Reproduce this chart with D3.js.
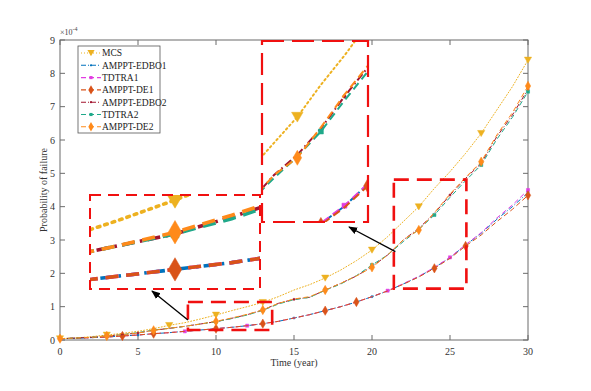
<!DOCTYPE html>
<html>
<head>
<meta charset="utf-8">
<script src="https://cdn.jsdelivr.net/npm/d3@7"></script>
<style>
  body { margin: 0; background: #fff; }
  text { font-family: "Liberation Serif", "Times New Roman", serif; }
</style>
</head>
<body>
<svg id="chart" width="591" height="391"></svg>
<script>
// data (values in units of 1e-4)
var years = [0,1,2,3,4,5,6,7,8,9,10,11,12,13,14,15,16,17,18,19,20,21,22,23,24,25,26,27,28,29,30];
var mcs    = [0.04,0.06,0.10,0.15,0.20,0.26,0.34,0.44,0.52,0.63,0.75,0.88,1.00,1.13,1.30,1.50,1.66,1.86,2.10,2.38,2.70,3.10,3.55,4.00,4.55,5.05,5.60,6.20,6.90,7.60,8.40];
var edbo1  = [0.04,0.05,0.07,0.09,0.12,0.15,0.19,0.22,0.26,0.30,0.34,0.38,0.43,0.49,0.56,0.66,0.76,0.88,1.00,1.14,1.30,1.47,1.68,1.90,2.17,2.47,2.85,3.20,3.62,4.00,4.42];
var tdtra1 = [0.04,0.05,0.07,0.09,0.12,0.15,0.19,0.22,0.26,0.30,0.34,0.38,0.43,0.49,0.56,0.66,0.76,0.88,1.00,1.14,1.30,1.48,1.69,1.91,2.18,2.48,2.86,3.22,3.66,4.05,4.50];
var de1    = [0.04,0.05,0.07,0.09,0.12,0.15,0.19,0.22,0.26,0.30,0.34,0.38,0.43,0.49,0.56,0.66,0.76,0.88,1.00,1.14,1.30,1.47,1.67,1.89,2.15,2.45,2.82,3.15,3.55,3.92,4.34];
var edbo2  = [0.04,0.06,0.08,0.12,0.16,0.21,0.29,0.35,0.41,0.48,0.55,0.65,0.76,0.90,1.10,1.22,1.28,1.50,1.70,1.92,2.20,2.55,3.00,3.35,3.80,4.35,4.85,5.30,6.10,6.75,7.52];
var tdtra2 = [0.04,0.06,0.08,0.12,0.16,0.22,0.30,0.35,0.41,0.48,0.55,0.64,0.75,0.89,1.08,1.21,1.28,1.49,1.68,1.93,2.25,2.55,2.95,3.32,3.75,4.28,4.78,5.25,6.02,6.68,7.45];
var de2    = [0.04,0.06,0.08,0.12,0.16,0.21,0.29,0.35,0.41,0.48,0.56,0.66,0.77,0.90,1.10,1.23,1.30,1.50,1.70,1.92,2.18,2.55,3.00,3.30,3.82,4.38,4.88,5.35,6.15,6.82,7.62];

// which points carry a marker
var mcsMarks    = [0,3,7,10,13,17,20,23,27,30];
var edbo1Marks  = [0,5,10,15,20,25,30];
var tdtra1Marks = [0,4,8,12,17,21,25,30];
var de1Marks    = [4,6,10,13,17,19,24,26,30];
var edbo2Marks  = [0,5,10,15,20,25,30];
var tdtra2Marks = [3,6,10,13,17,20,24,27,30];
var de2Marks    = [0,3,6,10,13,17,20,23,27,30];

var xTicks = [0,5,10,15,20,25,30];
var yTicks = [0,1,2,3,4,5,6,7,8,9];

var series = [
  {name: "MCS",         values: mcs,    marks: mcsMarks,    color: "#EDB120", dash: "1,2",     marker: "tri"},
  {name: "AMPPT-EDBO1", values: edbo1,  marks: edbo1Marks,  color: "#0072BD", dash: "5,2,1,2", marker: "dot"},
  {name: "TDTRA1",      values: tdtra1, marks: tdtra1Marks, color: "#E23CE2", dash: "5,3",     marker: "sq"},
  {name: "AMPPT-DE1",   values: de1,    marks: de1Marks,    color: "#D95319", dash: "5,3",     marker: "dia"},
  {name: "AMPPT-EDBO2", values: edbo2,  marks: edbo2Marks,  color: "#A2142F", dash: "5,2,1,2", marker: "dot"},
  {name: "TDTRA2",      values: tdtra2, marks: tdtra2Marks, color: "#1FA98A", dash: "5,3",     marker: "sq"},
  {name: "AMPPT-DE2",   values: de2,    marks: de2Marks,    color: "#FF8A1A", dash: "5,3",     marker: "dia"}
];

//Setup chart
var svg = d3.select("#chart"),
    margin = {top: 40, right: 63, bottom: 51, left: 60},
    width = +svg.attr("width") - margin.left - margin.right,
    height = +svg.attr("height") - margin.top - margin.bottom,
    g = svg.append("g").attr("transform", "translate(" + margin.left + "," + margin.top + ")");

var x = d3.scaleLinear().domain([0, 30]).range([0, width]);
var y = d3.scaleLinear().domain([0, 9]).range([height, 0]);

var axisColor = "#6b6b6b";

// draw a marker shape centred at 0,0
function markerPath(type, s) {
  if (type == "tri") return "M" + (-s) + "," + (-s * 0.8) + "L" + s + "," + (-s * 0.8) + "L0," + (s * 0.9) + "Z";
  if (type == "dia") return "M0," + (-s * 1.3) + "L" + (s * 0.75) + ",0L0," + (s * 1.3) + "L" + (-s * 0.75) + ",0Z";
  if (type == "sq")  return "M" + (-s * 0.6) + "," + (-s * 0.6) + "h" + (s * 1.2) + "v" + (s * 1.2) + "h" + (-s * 1.2) + "Z";
  return d3.symbol().type(d3.symbolCircle).size(s * s * 1.2)();
}
var markerSize = {tri: 3.6, dia: 3.6, sq: 2.6, dot: 1.8};

// draws all series into a group with given scales
function drawSeries(target, xs, ys, lw, scale, markScale) {
  var line = d3.line()
    .x(function(d, i){ return xs(years[i]); })
    .y(function(d){ return ys(d); });
  series.forEach(function(s) {
    var dash = s.dash.split(",").map(function(v){ return +v * scale; }).join(",");
    target.append("path")
      .datum(s.values)
      .attr("fill", "none")
      .attr("stroke", s.color)
      .attr("stroke-width", lw)
      .attr("stroke-dasharray", dash)
      .attr("stroke-linecap", s.marker == "tri" ? "round" : "butt")
      .attr("d", line);
    target.selectAll(null)
      .data(s.marks)
      .enter().append("path")
      .attr("transform", function(i){ return "translate(" + xs(years[i]) + "," + ys(s.values[i]) + ")"; })
      .attr("d", markerPath(s.marker, markerSize[s.marker] * markScale))
      .attr("fill", s.color)
      .attr("stroke", s.color)
      .attr("stroke-width", 0.5);
  });
}

// axes box
g.append("rect")
  .attr("width", width).attr("height", height)
  .attr("fill", "none").attr("stroke", axisColor).attr("stroke-width", 1);

var tickLen = 5;
xTicks.forEach(function(t) {
  g.append("line").attr("x1", x(t)).attr("x2", x(t)).attr("y1", height).attr("y2", height - tickLen).attr("stroke", axisColor);
  g.append("line").attr("x1", x(t)).attr("x2", x(t)).attr("y1", 0).attr("y2", tickLen).attr("stroke", axisColor);
  g.append("text").attr("x", x(t)).attr("y", height + 15).attr("text-anchor", "middle")
    .attr("font-size", 10).attr("fill", "#333").text(t);
});
yTicks.forEach(function(t) {
  g.append("line").attr("x1", 0).attr("x2", tickLen).attr("y1", y(t)).attr("y2", y(t)).attr("stroke", axisColor);
  g.append("line").attr("x1", width).attr("x2", width - tickLen).attr("y1", y(t)).attr("y2", y(t)).attr("stroke", axisColor);
  g.append("text").attr("x", -5).attr("y", y(t) + 3.5).attr("text-anchor", "end")
    .attr("font-size", 10).attr("fill", "#333").text(t);
});

// exponent
var expo = g.append("text").attr("x", 0).attr("y", -5).attr("font-size", 8).attr("fill", "#444");
expo.append("tspan").text("\u00d710");
expo.append("tspan").attr("dy", -4).attr("font-size", 6).text("-4");

// axis labels
svg.append("text").attr("x", margin.left + width / 2).attr("y", 366).attr("text-anchor", "middle")
  .attr("font-size", 10).attr("fill", "#333").text("Time (year)");
svg.append("text").attr("transform", "translate(47," + (margin.top + height / 2) + ") rotate(-90)")
  .attr("text-anchor", "middle").attr("font-size", 10).attr("fill", "#333").text("Probability of failure");

// main curves
var plot = g.append("g");
drawSeries(plot, x, y, 1.0, 1, 1);

// source rectangles of the zooms (in data units)
var zoomBoxes = [
  {x0: 8.2, x1: 13.6, y0: 0.3, y1: 1.14},
  {x0: 21.4, x1: 26.05, y0: 1.54, y1: 4.81}
];
zoomBoxes.forEach(function(b) {
  g.append("rect")
    .attr("x", x(b.x0)).attr("y", y(b.y1))
    .attr("width", x(b.x1) - x(b.x0)).attr("height", y(b.y0) - y(b.y1))
    .attr("fill", "none").attr("stroke", "#f01010").attr("stroke-width", 2.6)
    .attr("stroke-dasharray", "15,8");
});

// insets (magnified views)
var insets = [
  {px: 30, py: 155, w: 170, h: 94, xd: [8.5, 11.5], yd: [0.224, 0.78], lw: 3.6, scale: 2.6, mark: 2.5, dash: "11,7", sw: 2},
  {px: 202, py: 1, w: 106, h: 181, xd: [21.5, 26], yd: [2.2, 5.3], lw: 2, scale: 1.6, mark: 1.6, dash: "22,8", sw: 2.2}
];
insets.forEach(function(ins, k) {
  var ig = g.append("g").attr("transform", "translate(" + ins.px + "," + ins.py + ")");
  ig.append("rect").attr("width", ins.w).attr("height", ins.h).attr("fill", "#fff");
  ig.append("clipPath").attr("id", "clip" + k)
    .append("rect").attr("width", ins.w).attr("height", ins.h);
  var xs = d3.scaleLinear().domain(ins.xd).range([0, ins.w]);
  var ys = d3.scaleLinear().domain(ins.yd).range([ins.h, 0]);
  var inner = ig.append("g").attr("clip-path", "url(#clip" + k + ")");
  drawSeries(inner, xs, ys, ins.lw, ins.scale, ins.mark);
  ig.append("rect").attr("width", ins.w).attr("height", ins.h)
    .attr("fill", "none").attr("stroke", "#f01010").attr("stroke-width", ins.sw)
    .attr("stroke-dasharray", ins.dash);
});

// arrows
svg.append("defs").append("marker")
  .attr("id", "arrow").attr("viewBox", "0 0 10 10").attr("refX", 9).attr("refY", 5)
  .attr("markerWidth", 7).attr("markerHeight", 7).attr("orient", "auto")
  .append("path").attr("d", "M0,1L10,5L0,9Z").attr("fill", "#000");
var arrows = [
  {from: [x(8.2), y(0.6)], to: [92, 251]},
  {from: [x(21.5), y(2.65)], to: [289, 187]}
];
arrows.forEach(function(a) {
  g.append("line")
    .attr("x1", a.from[0]).attr("y1", a.from[1]).attr("x2", a.to[0]).attr("y2", a.to[1])
    .attr("stroke", "#000").attr("stroke-width", 1.3).attr("marker-end", "url(#arrow)");
});

// legend
var legend = g.append("g").attr("transform", "translate(18,6)");
legend.append("rect").attr("width", 82).attr("height", 87)
  .attr("fill", "#fff").attr("stroke", "#555").attr("stroke-width", 0.8);
series.forEach(function(s, i) {
  var ly = 7 + i * 12.3;
  legend.append("line").attr("x1", 3).attr("x2", 23).attr("y1", ly).attr("y2", ly)
    .attr("stroke", s.color).attr("stroke-width", 1.1).attr("stroke-dasharray", s.dash);
  legend.append("path").attr("transform", "translate(13," + ly + ")")
    .attr("d", markerPath(s.marker, markerSize[s.marker])).attr("fill", s.color);
  legend.append("text").attr("x", 24).attr("y", ly + 3.3).attr("font-size", 9.5)
    .attr("fill", "#222").text(s.name);
});
</script>
</body>
</html>
